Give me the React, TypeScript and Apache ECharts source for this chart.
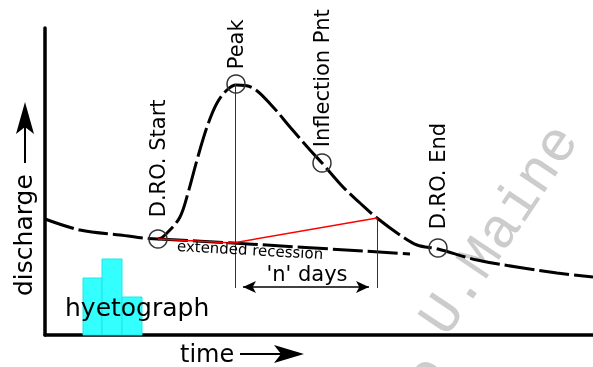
import React, { useEffect, useRef } from 'react';
import * as echarts from 'echarts';

// Hydrograph (time, discharge)
const hydroTime = [0, 35, 75, 113, 122, 135, 143, 152, 162, 172, 182, 191, 208, 228, 245, 265, 277, 298, 315, 332, 355, 372, 393, 432, 478, 512, 548];
const hydroQ = [116, 105, 100, 96, 102, 118, 142, 175, 208, 232, 245, 250, 247, 228, 208, 185, 172, 148, 132, 117, 100, 90, 86, 75, 67, 62, 58];

// Extended recession
const recTime = [113, 188, 365];
const recQ = [96, 92, 81];

// Red separation lines
const redTime = [113, 188, 332];
const redQ = [96, 92, 117];

// Marked points
const pointNames = ['D.RO. Start', 'Peak', 'Inflection Pnt', 'D.RO. End'];
const pointTime = [113, 191, 277, 393];
const pointQ = [96, 251, 172, 87];
const labelGap = [12, 5, 6, 9];

// Hyetograph bars
const hyetoStart = [38, 57, 77];
const hyetoEnd = [57, 77, 97];
const hyetoDepth = [57, 76, 38];

// 'n' days span
const nDaysFrom = 190;
const nDaysTo = 332;
const nDaysArrowFrom = 198;
const nDaysArrowTo = 324;
const nDaysLevel = 48;
const peakQ = 251;
const nEndQ = 117;

export default function App() {
  const ref = useRef<HTMLDivElement>(null);
  useEffect(() => {
    const chart = echarts.init(ref.current!, null, { renderer: 'svg' });
    const font = 'DejaVu Sans';
    const axis = (max: number) => ({
      type: 'value',
      min: 0,
      max,
      axisLine: { show: true, onZero: false, lineStyle: { color: '#000', width: 3.5 } },
      axisTick: { show: false },
      axisLabel: { show: false },
      splitLine: { show: false },
    });
    const wm = { fontFamily: "'Liberation Mono', 'Courier New', monospace", fill: '#cccccc', fontSize: 57, fontWeight: 'normal' };
    const option: any = {
      animation: false,
      textStyle: { fontFamily: font },
      grid: { left: 45, right: 0, top: 28, bottom: 32 },
      xAxis: axis(548),
      yAxis: axis(307),
      series: [
        {
          type: 'custom',
          z: 1,
          data: hyetoStart.map((s, i) => [s, hyetoEnd[i], hyetoDepth[i]]),
          renderItem: (params: any, api: any) => {
            const a = api.coord([api.value(0), api.value(2)]);
            const b = api.coord([api.value(1), 0]);
            return {
              type: 'rect',
              shape: { x: a[0], y: a[1], width: b[0] - a[0], height: b[1] - a[1] },
              style: { fill: '#33ffff', stroke: '#22e6e6', lineWidth: 1 },
            };
          },
        },
        {
          type: 'line',
          z: 3,
          data: hydroTime.map((t, i) => [t, hydroQ[i]]),
          smooth: 0.35,
          showSymbol: false,
          lineStyle: { color: '#000', width: 3, type: [30, 5], cap: 'butt' },
        },
        {
          type: 'line',
          z: 3,
          data: recTime.map((t, i) => [t, recQ[i]]),
          smooth: 0.3,
          showSymbol: false,
          lineStyle: { color: '#000', width: 3, type: [30, 5], cap: 'butt' },
        },
        {
          type: 'line',
          z: 4,
          data: redTime.map((t, i) => [t, redQ[i]]),
          showSymbol: false,
          lineStyle: { color: '#ff0000', width: 1.5 },
        },
        {
          type: 'line',
          z: 2,
          data: [],
          markLine: {
            silent: true,
            animation: false,
            label: { show: false },
            data: [
              [
                { coord: [nDaysFrom, peakQ], symbol: 'none' },
                { coord: [nDaysFrom, nDaysLevel - 1], symbol: 'none' },
              ],
              [
                { coord: [nDaysTo, nEndQ], symbol: 'none' },
                { coord: [nDaysTo, nDaysLevel - 1], symbol: 'none' },
              ],
            ],
            lineStyle: { color: '#333', width: 1, type: 'solid' },
          },
        },
        {
          type: 'line',
          z: 2,
          data: [],
          markLine: {
            silent: true,
            animation: false,
            label: { show: false },
            symbol: ['arrow', 'arrow'],
            symbolSize: [9, 13],
            data: [[{ coord: [nDaysArrowFrom, nDaysLevel] }, { coord: [nDaysArrowTo, nDaysLevel] }]],
            lineStyle: { color: '#000', width: 1.5, type: 'solid' },
          },
        },
        {
          type: 'scatter',
          z: 5,
          symbol: 'circle',
          symbolSize: 18,
          itemStyle: { color: 'rgba(0,0,0,0)', borderColor: '#333', borderWidth: 1.5, opacity: 1 },
          label: {
            show: true,
            position: 'top',
            rotate: 90,
            align: 'left',
            verticalAlign: 'middle',
            formatter: '{b}',
            fontSize: 21,
            color: '#000',
            fontFamily: font,
          },
          data: pointNames.map((n, i) => ({
            name: n,
            value: [pointTime[i], pointQ[i]],
            label: { distance: labelGap[i] },
          })),
        },
      ],
      graphic: [
        {
          type: 'text', z: 0, x: 434, y: 330, rotation: 0.98,
          style: { ...wm, text: 'U.Maine', align: 'left', verticalAlign: 'middle' },
        },
        {
          type: 'text', z: 0, x: 428, y: 377, rotation: 0.98,
          style: { ...wm, text: 'e', align: 'center', verticalAlign: 'middle' },
        },
        {
          type: 'text', z: 0, x: 454, y: 373, rotation: 0.98,
          style: { ...wm, text: ',', align: 'center', verticalAlign: 'middle' },
        },
        {
          type: 'text', z: 10, x: 23, y: 296, rotation: Math.PI / 2,
          style: { text: 'discharge', fontSize: 25, fontFamily: font, fill: '#000', align: 'left', verticalAlign: 'middle' },
        },
        { type: 'line', z: 10, shape: { x1: 25, y1: 163, x2: 25, y2: 125 }, style: { stroke: '#000', lineWidth: 2 } },
        { type: 'polygon', z: 10, shape: { points: [[25, 102], [34, 134], [25, 127], [16, 134]] }, style: { fill: '#000' } },
        {
          type: 'text', z: 10, x: 180, y: 354,
          style: { text: 'time', fontSize: 24, fontFamily: font, fill: '#000', align: 'left', verticalAlign: 'middle' },
        },
        { type: 'line', z: 10, shape: { x1: 240, y1: 354, x2: 283, y2: 354 }, style: { stroke: '#000', lineWidth: 2 } },
        { type: 'polygon', z: 10, shape: { points: [[304, 354], [274, 345], [281, 354], [274, 363]] }, style: { fill: '#000' } },
        {
          type: 'text', z: 10, x: 65, y: 307,
          style: { text: 'hyetograph', fontSize: 25, fontFamily: font, fill: '#000', align: 'left', verticalAlign: 'middle' },
        },
        {
          type: 'text', z: 10, x: 307, y: 274,
          style: { text: "'n' days", fontSize: 21, fontFamily: font, fill: '#000', align: 'center', verticalAlign: 'middle' },
        },
        {
          type: 'text', z: 10, x: 177, y: 246, rotation: -0.055,
          style: { text: 'extended recession', fontSize: 15, fontFamily: font, fill: '#000', align: 'left', verticalAlign: 'middle' },
        },
      ],
    };
    chart.setOption(option);
    return () => chart.dispose();
  }, []);
  return <div ref={ref} style={{ position: 'fixed', left: 0, top: 0, width: 593, height: 367 }} />;
}
